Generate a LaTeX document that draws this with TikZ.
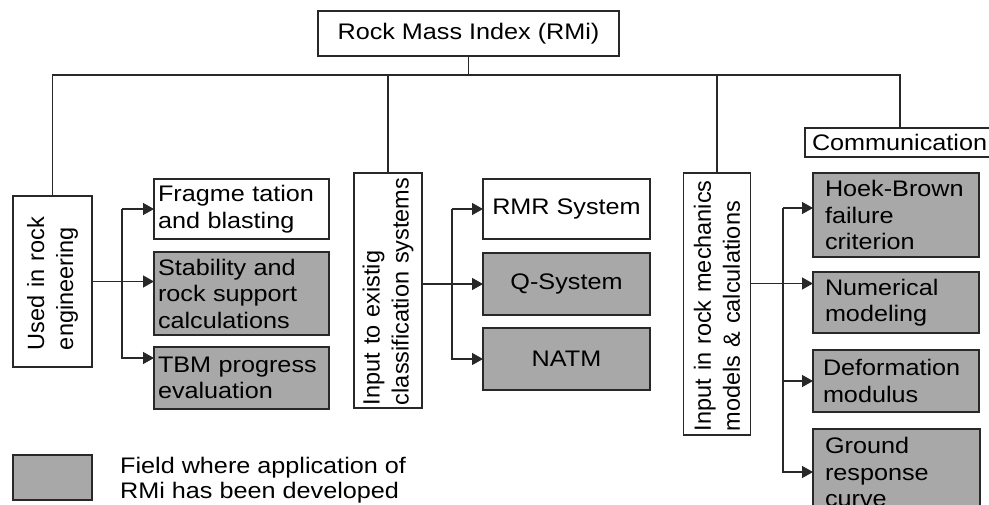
\documentclass[tikz,border=0pt]{standalone}
\usepackage{fontspec}
\setmainfont{Liberation Sans}[FakeStretch=1.12]
\newfontfamily\sidefont{Liberation Sans}
\usepackage{tikz}
\usetikzlibrary{arrows.meta}
\definecolor{fieldgray}{RGB}{168,168,168}
\definecolor{inkgray}{RGB}{40,40,40}

\begin{document}
\begin{tikzpicture}[x=1pt, y=-1pt,
    box/.style={draw=inkgray, line width=1.6pt, fill=white, anchor=north west, inner ysep=2pt, outer sep=0pt, font=\fontsize{22.5}{26.5}\selectfont},
    fieldbox/.style={box, fill=fieldgray},
    sidebox/.style={draw=inkgray, line width=1.6pt, fill=white, rotate=90, align=left, inner ysep=2pt, outer sep=0pt, font=\sidefont\fontsize{23.5}{29}\selectfont},
    link/.style={draw=inkgray, line width=1.4pt},
    feed/.style={link, -{Triangle[length=11pt, width=12pt]}}]
    \useasboundingbox (0,0) rectangle (989,504);
    \clip (0,0) rectangle (989,504);

    \node[box, minimum width=301pt, minimum height=45pt, align=center] (rmi) at (318,11) {Rock Mass Index (RMi)};
    \node[box, minimum width=200pt, minimum height=29pt, inner xsep=7pt, text width=186pt, align=left] (comm) at (805,128) {Communication};

    \node[sidebox, minimum width=171pt, minimum height=79pt, inner xsep=17pt, text width=137pt] (used) at (52.5,281.5) {Used in rock\\engineering};
    \node[sidebox, minimum width=235pt, minimum height=68pt, inner xsep=3pt, text width=229pt] (existig) at (388,290.5) {Input to existig\\classification systems};
    \node[sidebox, minimum width=262pt, minimum height=67pt, inner xsep=4pt, text width=254pt] (mech) at (717,304) {Input in rock mechanics\\models \& calculations};

    \node[box, minimum width=175pt, minimum height=60pt, inner xsep=4pt, text width=167pt, align=left] (frag) at (154,179) {Fragme tation\\and blasting};
    \node[fieldbox, minimum width=175pt, minimum height=83pt, inner xsep=4pt, text width=167pt, align=left] (stab) at (154,252) {Stability and\\rock support\\calculations};
    \node[fieldbox, minimum width=175pt, minimum height=62pt, inner xsep=4pt, text width=167pt, align=left] (tbm) at (154,347) {TBM progress\\evaluation};

    \node[box, minimum width=167pt, minimum height=60pt, align=center] (rmr) at (483,179) {RMR System};
    \node[fieldbox, minimum width=167pt, minimum height=62pt, align=center] (q) at (483,253) {Q-System};
    \node[fieldbox, minimum width=167pt, minimum height=62pt, align=center] (natm) at (483,328) {NATM};

    \node[fieldbox, minimum width=166pt, minimum height=84pt, inner xsep=12pt, text width=142pt, align=left] (hoek) at (813,173) {Hoek-Brown\\failure\\criterion};
    \node[fieldbox, minimum width=166pt, minimum height=61pt, inner xsep=12pt, text width=142pt, align=left] (num) at (813,272) {Numerical\\modeling};
    \node[fieldbox, minimum width=166pt, minimum height=62pt, inner xsep=10pt, text width=146pt, align=left] (defo) at (813,350) {Deformation\\modulus};
    \node[fieldbox, minimum width=167pt, minimum height=86pt, inner xsep=12pt, text width=143pt, align=left] (ground) at (813,429) {Ground\\response\\curve};

    \node[fieldbox, minimum width=79pt, minimum height=45pt] (key) at (13,455) {};
    \node[anchor=west, align=left, inner sep=0pt, font=\fontsize{22.5}{25}\selectfont] (keytext) at (120,480) {Field where application of\\RMi has been developed};

    \coordinate (bus) at (0,75);
    \coordinate (fork1) at (122,0);
    \coordinate (fork2) at (452,0);
    \coordinate (fork3) at (783,0);
    \coordinate (commin) at ([xshift=-5pt]comm.north);
    \coordinate (hoekin) at ([yshift=7pt]hoek.west);
    \coordinate (numin) at ([yshift=19pt]num.west);

    \draw[link] (rmi.south) -- (rmi.south |- bus);
    \draw[link] (used.east) |- (bus -| commin) -- (commin);
    \draw[link] (existig.east) -- (existig.east |- bus);
    \draw[link] (mech.east) -- (mech.east |- bus);

    \draw[feed] (used.south) -- (used.south -| stab.west);
    \draw[feed] (fork1 |- frag.west) -- (frag.west);
    \draw[feed] (fork1 |- frag.west) |- ([yshift=20pt]tbm.west);

    \draw[feed] (existig.south |- q.west) -- (q.west);
    \draw[feed] (fork2 |- rmr.west) -- (rmr.west);
    \draw[feed] (fork2 |- rmr.west) |- (natm.west);

    \draw[feed] (mech.south |- numin) -- (numin);
    \draw[feed] (fork3 |- hoekin) -- (hoekin);
    \draw[feed] (fork3 |- hoekin) |- (ground.west);
    \draw[feed] (fork3 |- defo.west) -- (defo.west);
\end{tikzpicture}
\end{document}
